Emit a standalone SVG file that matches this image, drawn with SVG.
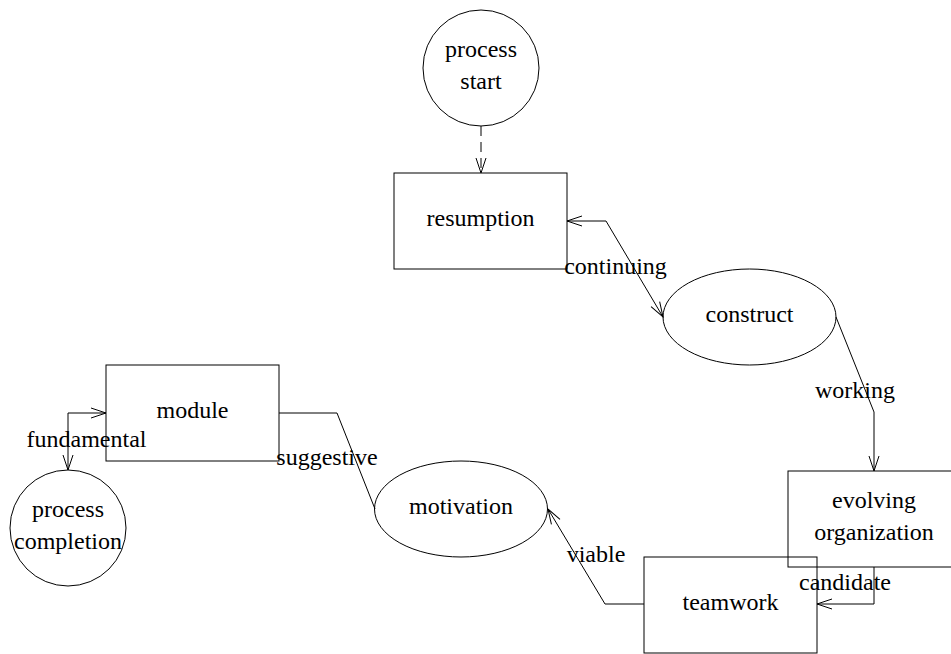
<svg xmlns="http://www.w3.org/2000/svg" width="951" height="654" viewBox="0 0 951 654">
<style>
  .shape { fill: none; stroke: #000; stroke-width: 1; }
  .edge { fill: none; stroke: #000; stroke-width: 1; }
  .dashed { stroke-dasharray: 10 6; }
  text { font-family: "Liberation Serif", "Times New Roman", serif; font-size: 24px; fill: #000; text-anchor: middle; }
</style>
<defs>
  <marker id="arrow" markerUnits="userSpaceOnUse" markerWidth="20" markerHeight="14" viewBox="-16 -7 18 14" refX="0" refY="0" orient="auto-start-reverse" overflow="visible">
    <path d="M-15,-5 L0,0 L-15,5" fill="none" stroke="#000" stroke-width="1" stroke-dasharray="none"/>
  </marker>
</defs>
<rect width="951" height="654" fill="#fff"/>
<g id="connectors">
  <path class="edge dashed" d="M481,126 L481,173" marker-end="url(#arrow)"/>
  <path class="edge" d="M567,221 L606,221 L663,317" marker-start="url(#arrow)" marker-end="url(#arrow)"/>
  <path class="edge" d="M836,317 L874,412 L874,471" marker-end="url(#arrow)"/>
  <path class="edge" d="M874,567 L874,604 L817,604" marker-end="url(#arrow)"/>
  <path class="edge" d="M644,604 L605,604 L548,509" marker-end="url(#arrow)"/>
  <path class="edge" d="M279,413 L337,413 L375,509"/>
  <path class="edge" d="M106,413 L68,413 L68,470" marker-start="url(#arrow)" marker-end="url(#arrow)"/>
</g>
<g id="process-start">
  <circle class="shape" cx="481" cy="68" r="58"/>
  <text x="481" y="57">process</text>
  <text x="481" y="89">start</text>
</g>
<g id="resumption">
  <rect class="shape" x="394" y="173" width="173" height="96"/>
  <text x="480.5" y="226">resumption</text>
</g>
<g id="construct">
  <ellipse class="shape" cx="749.5" cy="317" rx="86.5" ry="48"/>
  <text x="749.5" y="322">construct</text>
</g>
<g id="evolving-organization">
  <rect class="shape" x="788" y="471" width="173" height="96"/>
  <text x="874" y="508">evolving</text>
  <text x="874" y="540">organization</text>
</g>
<g id="teamwork">
  <rect class="shape" x="644" y="557" width="173" height="96"/>
  <text x="730.5" y="610">teamwork</text>
</g>
<g id="motivation">
  <ellipse class="shape" cx="461" cy="509" rx="86.5" ry="48"/>
  <text x="461" y="514">motivation</text>
</g>
<g id="module">
  <rect class="shape" x="106" y="365" width="173" height="96"/>
  <text x="192.5" y="418">module</text>
</g>
<g id="process-completion">
  <circle class="shape" cx="68" cy="528" r="58"/>
  <text x="68" y="517">process</text>
  <text x="68" y="549">completion</text>
</g>
<g id="labels">
  <text x="615.5" y="274">continuing</text>
  <text x="855" y="398">working</text>
  <text x="845" y="590">candidate</text>
  <text x="596" y="562">viable</text>
  <text x="327" y="465">suggestive</text>
  <text x="86.5" y="447">fundamental</text>
</g>
</svg>
